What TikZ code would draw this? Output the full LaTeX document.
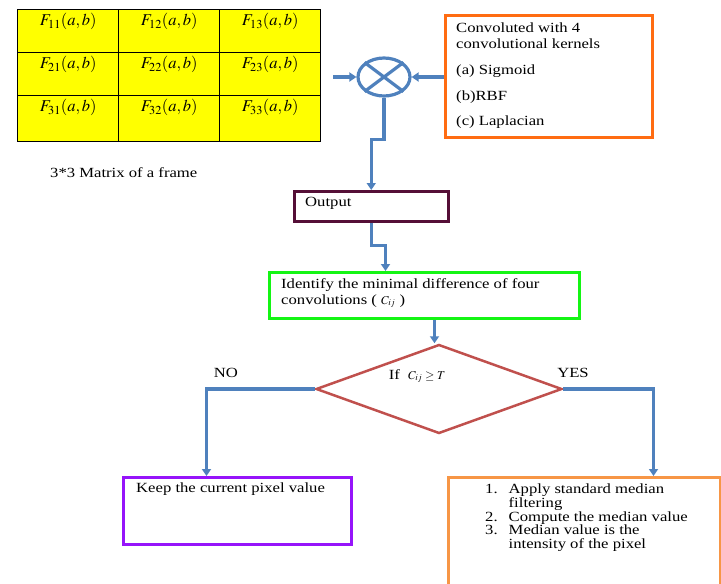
\documentclass[tikz,border=0pt]{standalone}
\usepackage{mathptmx}
\usepackage[no-math]{fontspec}
\setmainfont[FakeStretch=1.19]{Liberation Serif}
\usepackage{tikz}
\definecolor{flowblue}{RGB}{79,129,189}
\definecolor{frameyellow}{RGB}{255,255,0}
\definecolor{convorange}{RGB}{255,108,18}
\definecolor{resorange}{RGB}{247,150,70}
\definecolor{idgreen}{RGB}{20,245,20}
\definecolor{keeppurple}{RGB}{150,20,250}
\definecolor{outbrown}{RGB}{85,15,55}
\definecolor{decred}{RGB}{192,80,77}
\usetikzlibrary{arrows.meta}
\usetikzlibrary{shapes}
\usetikzlibrary{positioning}

\begin{document}
\begin{tikzpicture}[x=1pt,y=-1pt]
        \tikzset{every node/.style={font=\fontsize{14}{16}\selectfont},
                >={Triangle[length=7pt,width=9pt]},
                box/.style={draw, line width=3pt, inner sep=0pt, anchor=north west},
                cell/.style={draw, fill=frameyellow, line width=1.4pt, minimum width=101pt, inner sep=0pt, anchor=north west},
                txt/.style={inner sep=0pt, align=left},
                flow/.style={draw=flowblue, line width=3.2pt, ->}}

        \useasboundingbox (0,0) rectangle (721,584);
        \clip (0,0) rectangle (721,584);

        % frame matrix
        \foreach \r/\y/\h in {1/9/43,2/52/43,3/95/46} {
            \foreach \c/\x in {1/17,2/118,3/219} {
                \node[cell, minimum height=\h pt] (f\r\c) at (\x,\y) {};
                \node[below=4pt of f\r\c.north, inner sep=0pt, font=\fontsize{16.5}{19}\selectfont] (ft\r\c) {$F_{\r\c}(a,b)$};
            }
        }
        \node[anchor=west, inner sep=0pt] (cap) at (50,173) {3*3 Matrix of a frame};

        % multiplier and kernels
        \node[ellipse, draw=flowblue, line width=3.2pt, minimum width=52pt, minimum height=38pt, inner sep=0pt] (mul) at (384,77) {};
        \draw[flowblue, line width=3.2pt] (mul.north west) -- (mul.south east) (mul.north east) -- (mul.south west);
        \coordinate (src) at (333,77);

        \node[box, draw=convorange, minimum width=207pt, minimum height=122pt] (conv) at (444,14) {};
        \node[txt, below right=9pt and 12pt of conv.north west] (convtxt) {Convoluted with 4\\convolutional kernels\\[10pt](a) Sigmoid\\[10pt](b)RBF\\[9pt](c) Laplacian};

        \node[box, draw=outbrown, line width=2.5pt, minimum width=154pt, minimum height=30pt] (out) at (293,190) {};
        \node[txt, below right=7pt and 12pt of out.north west] (outtxt) {Output};

        \node[box, draw=idgreen, minimum width=310pt, minimum height=46pt] (idf) at (268,271) {};
        \node[txt, below right=7pt and 13pt of idf.north west] (idftxt) {Identify the minimal difference of four\\convolutions ( {\fontsize{12}{14}\selectfont$C_{ij}$} )};

        % decision
        \node[diamond, draw=decred, line width=2.5pt, minimum width=246pt, minimum height=89pt, inner sep=0pt] (dec) at (439,389) {};
        \node[above=6pt of dec.center, xshift=-22pt, inner sep=0pt] (dectxt) {If\ \ {\fontsize{12}{14}\selectfont$C_{ij}\geq T$}};
        \node (no) at (226,373) {NO};
        \node (yes) at (573,373) {YES};

        \node[box, draw=keeppurple, minimum width=228pt, minimum height=67pt] (keep) at (122,476) {};
        \node[txt, below right=7pt and 14pt of keep.north west] (keeptxt) {Keep the current pixel value};

        \node[box, draw=resorange, minimum width=272pt, minimum height=130pt] (res) at (447,476) {};
        \node[txt, below right=8pt and 38pt of res.north west, font=\fontsize{14}{13.1}\selectfont] (restxt) {\begin{tabular}{@{}r@{\hspace{11pt}}l@{}}1. & Apply standard median\\ & filtering\\ 2. & Compute the median value\\ 3. & Median value is the\\ & intensity of the pixel\end{tabular}};

        \draw[flow] (src) -- (mul.west);
        \draw[flow] (conv.west |- mul.east) -- (mul.east);
        \draw[flow] (mul.south) -- ++(0,42) -| (out.north);
        \draw[flow] (out.south) -- ++(0,23) -| ([xshift=-39pt]idf.north);
        \draw[flow] ([xshift=10pt]idf.south) -- ([xshift=10pt]idf.south |- dec.north);
        \draw[flow] (dec.west) -| ([xshift=-31pt]keep.north);
        \draw[flow] (dec.east) -| ([xshift=69pt]res.north);

    \end{tikzpicture}
\end{document}
